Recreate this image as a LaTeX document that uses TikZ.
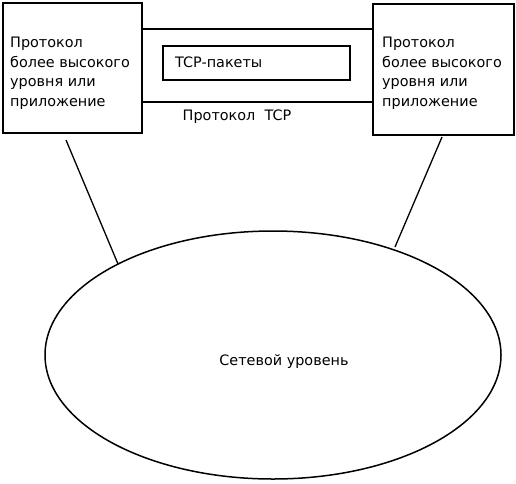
\documentclass[tikz,border=0pt]{standalone}
\usepackage{fontspec}
\setmainfont{DejaVu Sans}
\usetikzlibrary{shapes.geometric}
\begin{document}
\begin{tikzpicture}[x=1pt,y=-1pt,
  box/.style={draw,line width=2pt},
  lbl/.style={font=\fontsize{14.4}{19.5}\selectfont,align=left,inner sep=0pt},
  conn/.style={line width=1.3pt}]
\useasboundingbox (0,0) rectangle (516,483);
\draw[box] (3,3) rectangle (142,133);
\node[lbl,anchor=north west] (lt) at (10,37) {Протокол\\более высокого\\уровня или\\приложение};
\draw[box] (373,4) rectangle (514,135);
\node[lbl,anchor=north west] (rt) at (382,37) {Протокол\\более высокого\\уровня или\\приложение};
\coordinate (l1) at (142,29); \coordinate (r1) at (373,29);
\coordinate (l2) at (142,102); \coordinate (r2) at (373,102);
\draw[line width=1.8pt] (l1) -- (r1);
\draw[line width=1.8pt] (l2) -- (r2);
\draw[line width=1.8pt] (163,46) rectangle (350,80);
\node[lbl,anchor=west] (pk) at (175,62) {TCP-пакеты};
\node[lbl,anchor=center] (tcp) at (237,117) {Протокол\ \ TCP};
\draw[line width=1.5pt] (273,355) ellipse (228 and 124);
\node[lbl] (net) at (284,362) {Сетевой уровень};
\coordinate (a1) at (66,140); \coordinate (a2) at (118,264);
\coordinate (b1) at (442,137); \coordinate (b2) at (395,247);
\draw[conn] (a1) -- (a2);
\draw[conn] (b1) -- (b2);
\end{tikzpicture}
\end{document}
